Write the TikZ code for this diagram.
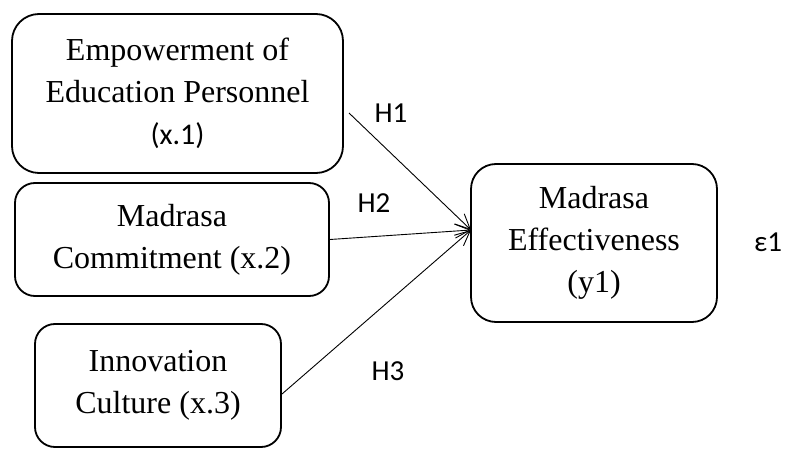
\documentclass[tikz,border=0pt]{standalone}
\usepackage{fontspec}
\setmainfont{Liberation Serif}
\newfontfamily\calfont{Carlito}
\usetikzlibrary{arrows.meta}
\begin{document}
\begin{tikzpicture}[x=1pt,y=-1pt,
  box/.style={draw,line width=1.8pt,align=center,inner sep=0pt,
    font=\fontsize{32}{42}\selectfont},
  link/.style={line width=0.9pt,-{Straight Barb[length=15pt,width=14pt,line width=0.9pt]}},
  lab/.style={font=\calfont\fontsize{29}{34}\selectfont,inner sep=0pt}]
\useasboundingbox (0,0) rectangle (785,449);
\node[box,rounded corners=27pt,minimum width=331pt,minimum height=159pt] (b1) at (177.5,93.5)
  {Empowerment of\\Education Personnel\\{\calfont\fontsize{30}{42}\selectfont (x.1)}};
\node[box,rounded corners=20pt,minimum width=314pt,minimum height=113pt] (b2) at (172,239.5)
  {Madrasa\\Commitment (x.2)};
\node[box,rounded corners=20pt,minimum width=246pt,minimum height=123pt] (b3) at (158,385.5)
  {Innovation\\Culture (x.3)};
\node[box,rounded corners=25pt,minimum width=246pt,minimum height=158pt] (b4) at (594,243)
  {Madrasa\\Effectiveness\\(y1)};
\coordinate (s1) at (349,113);
\coordinate (s2) at (b2.east);
\coordinate (s3) at (282,394);
\coordinate (t) at (471,230);
\draw[link] (s1) -- (t);
\draw[link] (s2) -- (t);
\draw[link] (s3) -- (t);
\node[lab] (h1) at (391,113) {H1};
\node[lab] (h2) at (374,203) {H2};
\node[lab] (h3) at (388,371) {H3};
\node[lab] (e1) at (768,242) {ε1};
\end{tikzpicture}
\end{document}
